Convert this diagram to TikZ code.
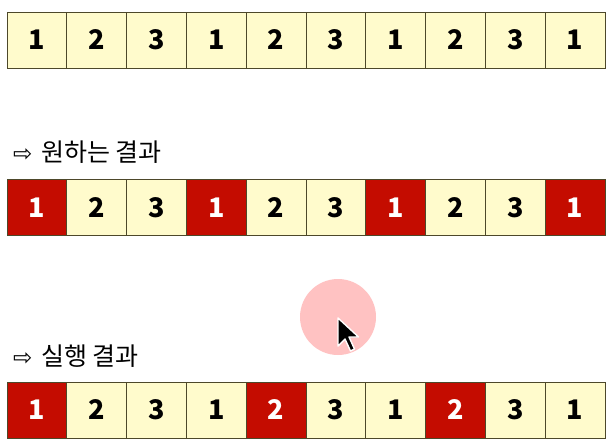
\documentclass[tikz,border=0pt]{standalone}
\usepackage{fontspec}
\setmainfont{Noto Sans CJK KR}
\newfontfamily\arrowfont{DejaVu Sans}
\definecolor{cellcream}{HTML}{FFFBCC}
\definecolor{cellred}{HTML}{C40C00}
\definecolor{celledge}{HTML}{4D482A}
\definecolor{clickpink}{HTML}{FFC2C2}

\begin{document}
\begin{tikzpicture}[x=1pt,y=-1pt,
  cell/.style={draw=celledge, line width=1pt, fill=cellcream,
    minimum width=59.8pt, minimum height=56pt, inner sep=0pt,
    font=\fontsize{27}{27}\selectfont\bfseries},
  hitcell/.style={cell, fill=cellred, text=white},
  caption/.style={anchor=west, inner sep=0pt, font=\fontsize{25}{25}\selectfont}]
\useasboundingbox (0,0) rectangle (610,442);

% Input sequence
\foreach \v [count=\i] in {1,2,3,1,2,3,1,2,3,1}
  \node[cell] (a\i) at ({7+59.8*(\i-0.5)},40) {\v};

% Wanted result
\node[caption] (want) at (13,152) {{\arrowfont\fontsize{23}{23}\selectfont ⇨}\hspace{3pt} 원하는 결과};
\foreach \v/\s [count=\i] in {1/hitcell,2/cell,3/cell,1/hitcell,2/cell,3/cell,1/hitcell,2/cell,3/cell,1/hitcell}
  \node[\s] (b\i) at ({7+59.8*(\i-0.5)},207.5) {\v};

% Click marker
\fill[clickpink] (338,317) circle (38);
\filldraw[fill=black, draw=white, line width=1.4pt, line join=round]
  (338,318) -- ++(0,28) -- ++(7,-7) -- ++(5.5,12) -- ++(4,-2) -- ++(-5.5,-12) -- ++(9.5,0) -- cycle;

% Actual result
\node[caption] (got) at (13,356) {{\arrowfont\fontsize{23}{23}\selectfont ⇨}\hspace{3pt} 실행 결과};
\foreach \v/\s [count=\i] in {1/hitcell,2/cell,3/cell,1/cell,2/hitcell,3/cell,1/cell,2/hitcell,3/cell,1/cell}
  \node[\s] (c\i) at ({7+59.8*(\i-0.5)},410) {\v};
\end{tikzpicture}
\end{document}
